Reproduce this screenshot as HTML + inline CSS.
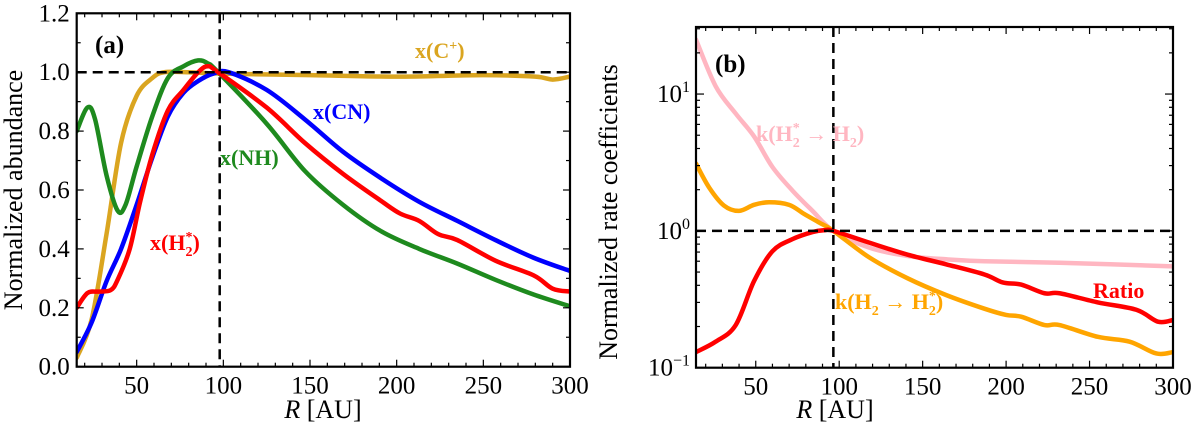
<!DOCTYPE html>
<html><head><meta charset="utf-8">
<style>
body{margin:0;background:#fff;}
svg, svg text{font-family:"Liberation Serif","DejaVu Serif",serif;}
.tk{font-family:"Liberation Serif",serif;font-size:25px;fill:#000;}
.ttl{font-family:"Liberation Serif",serif;font-size:26px;fill:#000;}
.ann{font-family:"Liberation Serif",serif;font-weight:bold;font-size:22px;}
</style></head>
<body>
<svg id="chart" width="1200" height="426" viewBox="0 0 1200 426" xmlns="http://www.w3.org/2000/svg" font-family="Liberation Serif, serif">
<g id="pa"></g>
<g id="pb"></g>
<text x="95" y="53" class="ann" style="font-size:25px">(a)</text>
<text x="415" y="58" class="ann" fill="#DAA520">x(C<tspan dy="-8" font-size="14">+</tspan><tspan dy="8">)</tspan></text>
<text x="313" y="119" class="ann" fill="#0000ff">x(CN)</text>
<text x="220" y="165" class="ann" fill="#1e8a1e">x(NH)</text>
<text x="150" y="250" class="ann" fill="#ff0000">x(H<tspan dy="6" font-size="14">2</tspan><tspan dx="-7" dy="-15" font-size="14">*</tspan><tspan dy="9">)</tspan></text>
<text x="22" y="190" text-anchor="middle" transform="rotate(-90 22 190)" class="ttl">Normalized abundance</text>
<text x="323" y="418" text-anchor="middle" class="ttl"><tspan font-style="italic">R</tspan> [AU]</text>
<text x="715" y="72" class="ann" style="font-size:25px">(b)</text>
<text x="756" y="141" class="ann" fill="#ffb6c1">k(H<tspan dy="6" font-size="14">2</tspan><tspan dx="-7" dy="-15" font-size="14">*</tspan><tspan dy="9"> → H</tspan><tspan dy="6" font-size="14">2</tspan><tspan dy="-6">)</tspan></text>
<text x="835" y="309" class="ann" fill="#ffa500">k(H<tspan dy="6" font-size="14">2</tspan><tspan dy="-6"> → H</tspan><tspan dy="6" font-size="14">2</tspan><tspan dx="-7" dy="-15" font-size="14">*</tspan><tspan dy="9">)</tspan></text>
<text x="1093" y="298" class="ann" fill="#ff0000">Ratio</text>
<text x="617" y="212" text-anchor="middle" transform="rotate(-90 617 212)" class="ttl">Normalized rate coefficients</text>
<text x="835" y="418" text-anchor="middle" class="ttl"><tspan font-style="italic">R</tspan> [AU]</text>
</svg>
<script>
// Panel (a) data
const aR_Cp=[15.4,24,32.6,41,50,59,66,80,100,150,200,250,280,290,300];
const aV_Cp=[0.03,0.16,0.45,0.76,0.92,0.98,1.0,1.0,0.995,0.99,0.985,0.99,0.985,0.975,0.985];
const aR_NH=[15.4,21.6,26,32.6,39,43.6,50,59,68,77,85.5,91,97,125,147,169,191,213,235,257,279,300];
const aV_NH=[0.8,0.88,0.84,0.65,0.53,0.55,0.68,0.85,0.98,1.02,1.04,1.03,1.0,0.825,0.665,0.55,0.46,0.40,0.35,0.295,0.245,0.205];
const aR_CN=[15.4,24,32.6,41,50,59,68,77,85.5,94,103,125,147,169,191,213,235,257,279,300];
const aV_CN=[0.05,0.15,0.29,0.40,0.55,0.71,0.85,0.93,0.97,0.995,1.0,0.94,0.84,0.73,0.64,0.56,0.495,0.43,0.37,0.325];
const aR_H2=[15.4,21.6,28,35,39,46,52,59,68,77,85.5,91,97,125,147,169,191,202,213,224,235,257,279,290,300];
const aV_H2=[0.2,0.25,0.255,0.26,0.295,0.40,0.56,0.72,0.87,0.94,1.0,1.02,1.0,0.88,0.76,0.655,0.563,0.52,0.495,0.45,0.43,0.36,0.31,0.265,0.255];
const aXTicks=[50,100,150,200,250,300];
const aYTicks=[0,0.2,0.4,0.6,0.8,1.0,1.2];
const aYTickLabels=["0.0","0.2","0.4","0.6","0.8","1.0","1.2"];
// Panel (b) data
const bR_pink=[14.2,26,38,49,60,72,84,96.5,118,141,164,187,232,300];
const bV_pink=[25,11.4,7.2,4.9,2.93,1.97,1.4,1.0,0.754,0.655,0.62,0.60,0.585,0.55];
const bR_orange=[14.2,22,31,40,49,58,70,79,88,96.5,118,141,164,187,200,209,223,232,255,274,290,300];
const bV_orange=[3.1,2.08,1.53,1.40,1.55,1.62,1.55,1.33,1.15,1.0,0.64,0.45,0.34,0.27,0.243,0.236,0.205,0.205,0.168,0.155,0.127,0.13];
const bR_ratio=[14.2,26,38,49,60,72,84,91,96.5,118,141,164,187,198,209,223,232,255,278,291,300];
const bV_ratio=[0.13,0.155,0.205,0.43,0.71,0.87,0.98,1.01,1.0,0.82,0.67,0.57,0.48,0.42,0.405,0.35,0.35,0.30,0.265,0.217,0.223];
const bXTicks=[50,100,150,200,250,300];
const bYTicks=[-1,0,1];
const bYTickLabels=["10","10","10"];
const bYTickExp=["−1","0","1"];

const NS="http://www.w3.org/2000/svg";
function mk(tag,attrs,parent){const e=document.createElementNS(NS,tag);for(const k in attrs)e.setAttribute(k,attrs[k]);parent.appendChild(e);return e;}
function smooth(pts){let d="M"+pts[0][0]+","+pts[0][1];for(let i=0;i<pts.length-1;i++){const p0=pts[Math.max(0,i-1)],p1=pts[i],p2=pts[i+1],p3=pts[Math.min(pts.length-1,i+2)];const c1x=p1[0]+(p2[0]-p0[0])/6,c1y=p1[1]+(p2[1]-p0[1])/6,c2x=p2[0]-(p3[0]-p1[0])/6,c2y=p2[1]-(p3[1]-p1[1])/6;d+=` C${c1x},${c1y} ${c2x},${c2y} ${p2[0]},${p2[1]}`;}return d;}

const A={L:76.7,R:570,T:13.3,B:366.7,x0:15.4,x1:300,y0:0,y1:1.2};
const ax=v=>A.L+(v-A.x0)/(A.x1-A.x0)*(A.R-A.L);
const ay=v=>A.B-(v-A.y0)/(A.y1-A.y0)*(A.B-A.T);
const B={L:696,R:1173,T:27,B:367.7,x0:14.2,x1:300,y0:-1,y1:1.49};
const bx=v=>B.L+(v-B.x0)/(B.x1-B.x0)*(B.R-B.L);
const by=v=>B.B-(Math.log10(v)-B.y0)/(B.y1-B.y0)*(B.B-B.T);
const byl=e=>B.B-(e-B.y0)/(B.y1-B.y0)*(B.B-B.T);

const pa=document.getElementById('pa'), pb=document.getElementById('pb');
function series(g,R,V,fx,fy,color,name,w){const p=mk('path',{d:smooth(R.map((r,i)=>[fx(r),fy(V[i])])),fill:'none',stroke:color,'stroke-width':w||4.5,'stroke-linejoin':'round','stroke-linecap':'round'},g);

}

const clipA=mk('clipPath',{id:'ca'},pa);mk('rect',{x:A.L,y:A.T,width:A.R-A.L,height:A.B-A.T},clipA);
const ga=mk('g',{'clip-path':'url(#ca)'},pa);
series(ga,aR_Cp,aV_Cp,ax,ay,'#DAA520','series-c-plus');
series(ga,aR_CN,aV_CN,ax,ay,'#0000ff','series-cn');
series(ga,aR_NH,aV_NH,ax,ay,'#1e8a1e','series-nh');
series(ga,aR_H2,aV_H2,ax,ay,'#ff0000','series-h2-star');
let l=mk('line',{x1:A.L,x2:A.R,y1:ay(1),y2:ay(1),stroke:'#000','stroke-width':2.5,'stroke-dasharray':'10,6'},pa);

l=mk('line',{x1:ax(97.9),x2:ax(97.9),y1:A.T,y2:A.B,stroke:'#000','stroke-width':2.5,'stroke-dasharray':'10,6'},pa);

for(let v=20;v<=300;v+=10){const x=ax(v),len=(v%50===0)?7:4;mk('line',{x1:x,x2:x,y1:A.B,y2:A.B-len,stroke:'#000','stroke-width':1.2},pa);mk('line',{x1:x,x2:x,y1:A.T,y2:A.T+len,stroke:'#000','stroke-width':1.2},pa);}
for(let v=0.1;v<1.2;v+=0.1){const y=ay(v),len=(Math.round(v*10)%2===0)?7:4;mk('line',{x1:A.L,x2:A.L+len,y1:y,y2:y,stroke:'#000','stroke-width':1.2},pa);mk('line',{x1:A.R,x2:A.R-len,y1:y,y2:y,stroke:'#000','stroke-width':1.2},pa);}
aXTicks.forEach(v=>{const t=mk('text',{x:ax(v),y:A.B+27,'text-anchor':'middle',class:'tk'},pa);t.textContent=v;
});
aYTicks.forEach((v,i)=>{const t=mk('text',{x:A.L-7,y:ay(v)+8,'text-anchor':'end',class:'tk'},pa);t.textContent=aYTickLabels[i];
});
l=mk('rect',{x:A.L,y:A.T,width:A.R-A.L,height:A.B-A.T,fill:'none',stroke:'#000','stroke-width':2.2},pa);


const clipB=mk('clipPath',{id:'cb'},pb);mk('rect',{x:B.L,y:B.T,width:B.R-B.L,height:B.B-B.T},clipB);
const gb=mk('g',{'clip-path':'url(#cb)'},pb);
series(gb,bR_pink,bV_pink,bx,by,'#ffb6c1','series-k-deexcitation');
series(gb,bR_orange,bV_orange,bx,by,'#ffa500','series-k-excitation');
series(gb,bR_ratio,bV_ratio,bx,by,'#ff0000','series-ratio');
l=mk('line',{x1:B.L,x2:B.R,y1:by(1),y2:by(1),stroke:'#000','stroke-width':2.5,'stroke-dasharray':'10,6'},pb);

l=mk('line',{x1:bx(96.5),x2:bx(96.5),y1:B.T,y2:B.B,stroke:'#000','stroke-width':2.5,'stroke-dasharray':'10,6'},pb);

for(let v=20;v<=300;v+=10){const x=bx(v),len=(v%50===0)?7:4;mk('line',{x1:x,x2:x,y1:B.B,y2:B.B-len,stroke:'#000','stroke-width':1.2},pb);mk('line',{x1:x,x2:x,y1:B.T,y2:B.T+len,stroke:'#000','stroke-width':1.2},pb);}
for(let e=-1;e<=1;e++){for(let m=1;m<10;m++){const val=Math.log10(m)+e;if(val>B.y1)break;const y=byl(val),len=m===1?8:4;mk('line',{x1:B.L,x2:B.L+len,y1:y,y2:y,stroke:'#000','stroke-width':1.2},pb);mk('line',{x1:B.R,x2:B.R-len,y1:y,y2:y,stroke:'#000','stroke-width':1.2},pb);}}
bXTicks.forEach(v=>{const t=mk('text',{x:bx(v),y:B.B+27,'text-anchor':'middle',class:'tk'},pb);t.textContent=v;
});
bYTicks.forEach((e,i)=>{const t=mk('text',{x:B.L-6,y:byl(e)+8,'text-anchor':'end',class:'tk'},pb);
const b=mk('tspan',{},t);b.textContent=bYTickLabels[i];const s=mk('tspan',{dy:-10,'font-size':16},t);s.textContent=bYTickExp[i];
});
l=mk('rect',{x:B.L,y:B.T,width:B.R-B.L,height:B.B-B.T,fill:'none',stroke:'#000','stroke-width':2.2},pb);

</script>
</body></html>
